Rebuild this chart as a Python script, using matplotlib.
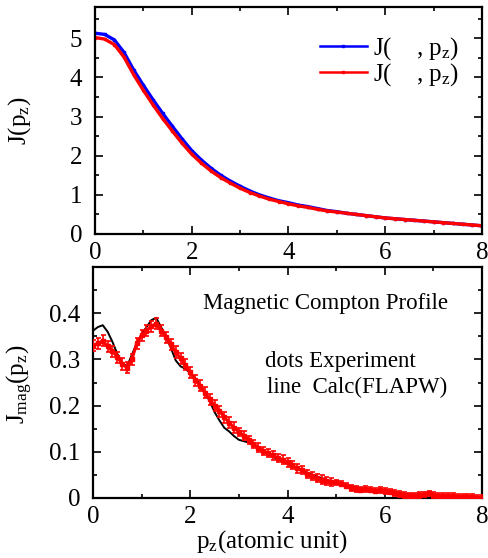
import matplotlib
matplotlib.use("Agg")
import matplotlib.pyplot as plt
from matplotlib.ticker import MultipleLocator, FixedLocator

plt.rcParams["font.family"] = ["Liberation Serif", "DejaVu Serif"]
plt.rcParams["mathtext.fontset"] = "custom"
plt.rcParams["mathtext.rm"] = "Liberation Serif"
plt.rcParams["mathtext.it"] = "Liberation Serif:italic"

# ---------------------------------------------------------------------------
# Data
# ---------------------------------------------------------------------------

# top panel: Compton profiles, p_z step 0.2
pz_top = [0.0, 0.2, 0.4, 0.6, 0.8, 1.0, 1.2, 1.4, 1.6, 1.8,
          2.0, 2.2, 2.4, 2.6, 2.8, 3.0, 3.2, 3.4, 3.6, 3.8,
          4.0, 4.2, 4.4, 4.6, 4.8, 5.0, 5.2, 5.4, 5.6, 5.8,
          6.0, 6.2, 6.4, 6.6, 6.8, 7.0, 7.2, 7.4, 7.6, 7.8, 8.0]
j_blue = [5.13, 5.10, 4.96, 4.64, 4.19, 3.80, 3.43, 3.08, 2.75, 2.43,
          2.13, 1.89, 1.68, 1.50, 1.35, 1.22, 1.10, 1.00, 0.92, 0.85,
          0.80, 0.74, 0.70, 0.65, 0.60, 0.57, 0.53, 0.50, 0.47, 0.44,
          0.41, 0.39, 0.37, 0.35, 0.33, 0.31, 0.29, 0.27, 0.25, 0.23, 0.21]
j_red = [5.02, 4.98, 4.84, 4.52, 4.07, 3.67, 3.30, 2.95, 2.63, 2.32,
         2.04, 1.81, 1.61, 1.44, 1.30, 1.17, 1.06, 0.97, 0.89, 0.83,
         0.77, 0.72, 0.68, 0.63, 0.59, 0.56, 0.53, 0.50, 0.47, 0.44,
         0.41, 0.39, 0.37, 0.35, 0.33, 0.31, 0.29, 0.27, 0.25, 0.23, 0.21]

# bottom panel: magnetic Compton profile, experiment (step 0.1)
pz_exp = [round(0.1 * i, 1) for i in range(81)]
j_exp = [0.330, 0.335, 0.340, 0.328, 0.318, 0.305, 0.290, 0.282, 0.300, 0.335,
         0.352, 0.362, 0.372, 0.377, 0.362, 0.348, 0.333, 0.316, 0.302, 0.288,
         0.272, 0.255, 0.243, 0.228, 0.214, 0.200, 0.188, 0.175, 0.163, 0.152,
         0.143, 0.135, 0.126, 0.117, 0.109, 0.102, 0.097, 0.092, 0.087, 0.083,
         0.077, 0.071, 0.064, 0.060, 0.052, 0.047, 0.043, 0.040, 0.037, 0.035,
         0.034, 0.031, 0.027, 0.022, 0.019, 0.018, 0.019, 0.018, 0.016, 0.017,
         0.015, 0.014, 0.011, 0.009, 0.007, 0.005, 0.005, 0.006, 0.008, 0.010,
         0.006, 0.004, 0.004, 0.005, 0.004, 0.003, 0.003, 0.002, 0.002, 0.001,
         0.000]
err_exp = [0.012] * 30 + [0.009] * 20 + [0.006] * 31

# calculation (FLAPW)
pz_calc = [0.0, 0.1, 0.2, 0.3, 0.4, 0.5, 0.6, 0.7, 0.8, 0.9,
           1.0, 1.1, 1.2, 1.3, 1.4, 1.5, 1.6, 1.7, 1.8, 1.9,
           2.0, 2.1, 2.2, 2.3, 2.4, 2.5, 2.6, 2.7, 2.8, 2.9,
           3.0, 3.2, 3.4, 3.6, 3.8, 4.0, 4.5, 5.0, 5.5, 6.0,
           6.5, 7.0, 7.5, 8.0]
j_calc = [0.362, 0.370, 0.374, 0.360, 0.338, 0.312, 0.292, 0.285, 0.310, 0.335,
          0.355, 0.370, 0.385, 0.390, 0.370, 0.350, 0.325, 0.298, 0.285, 0.280,
          0.270, 0.260, 0.245, 0.228, 0.210, 0.186, 0.168, 0.152, 0.144, 0.134,
          0.126, 0.120, 0.108, 0.095, 0.084, 0.074, 0.050, 0.033, 0.021, 0.014,
          0.008, 0.005, 0.003, 0.001]

top_yticks = [0, 1, 2, 3, 4, 5]
bot_yticks = [0, 0.1, 0.2, 0.3, 0.4]
bot_yticklabels = ["0", "0.1", "0.2", "0.3", "0.4"]

LEG_BLUE = r"J(    , $\mathrm{p_z}$)"
LEG_RED = r"J(    , $\mathrm{p_z}$)"

FS = 18


def style_axes(ax, yminor):
    ax.xaxis.set_major_locator(MultipleLocator(2))
    ax.xaxis.set_minor_locator(MultipleLocator(1))
    ax.yaxis.set_minor_locator(MultipleLocator(yminor))
    ax.tick_params(which="both", direction="in", top=True, right=True,
                   labelsize=FS, width=1.2)
    ax.tick_params(axis="x", pad=6)
    ax.tick_params(axis="y", pad=9)
    ax.tick_params(which="major", length=6)
    ax.tick_params(which="minor", length=3)
    for sp in ax.spines.values():
        sp.set_linewidth(1.6)


fig = plt.figure(figsize=(4.89, 5.58), dpi=100)
ax1 = fig.add_axes([95 / 489, 324 / 558, 387 / 489, 227 / 558])
ax2 = fig.add_axes([93 / 489, 60 / 558, 389 / 489, 231 / 558])

# ── top panel ────────────────────────────────────────────────────────────
ax1.plot(pz_top, j_blue, color="#0000ff", lw=2.4, marker="s", ms=2, label=LEG_BLUE)
ax1.plot(pz_top, j_red, color="#ff0000", lw=2.4, marker="s", ms=2, label=LEG_RED)
ax1.set_xlim(0, 8)
ax1.set_ylim(0, 5.8)
ax1.set_yticks(top_yticks)
ax1.set_yticklabels([str(v) for v in top_yticks])
style_axes(ax1, 0.5)
ax1.set_ylabel(r"J($\mathrm{p_z}$)", fontsize=FS)
ax1.yaxis.set_label_coords(-0.16, 0.5)
leg = ax1.legend(loc="upper left", bbox_to_anchor=(0.548, 0.93), frameon=False,
                 fontsize=FS, handlelength=1.9, handletextpad=0.25,
                 labelspacing=-0.05, borderpad=0)
for h in leg.legend_handles:
    h.set_linewidth(1.8)

# ── bottom panel ─────────────────────────────────────────────────────────
ax2.plot(pz_calc, j_calc, color="black", lw=1.4, zorder=2)
ax2.errorbar(pz_exp, j_exp, yerr=err_exp, color="#ff0000", lw=2.2, marker="s",
             ms=3.2, elinewidth=1.2, capsize=1.8, capthick=1.2, zorder=3)
ax2.set_xlim(0, 8)
ax2.set_ylim(0, 0.5)
ax2.yaxis.set_major_locator(FixedLocator(bot_yticks))
ax2.set_yticklabels(bot_yticklabels)
style_axes(ax2, 0.05)
ax2.set_ylabel(r"$\mathrm{J_{mag}}$($\mathrm{p_z}$)", fontsize=FS)
ax2.yaxis.set_label_coords(-0.15, 0.49)
ax2.set_xlabel(r"$\mathrm{p_z}$(atomic unit)", fontsize=FS)
ax2.xaxis.set_label_coords(0.46, -0.13)

ax2.text(4.78, 0.422, "Magnetic Compton Profile", ha="center", va="center", fontsize=16.5)
ax2.text(3.54, 0.296, "dots Experiment", ha="left", va="center", fontsize=16.5)
ax2.text(3.58, 0.239, "line  Calc(FLAPW)", ha="left", va="center", fontsize=16.5)

fig.savefig("out.png", dpi=100, facecolor="white")
